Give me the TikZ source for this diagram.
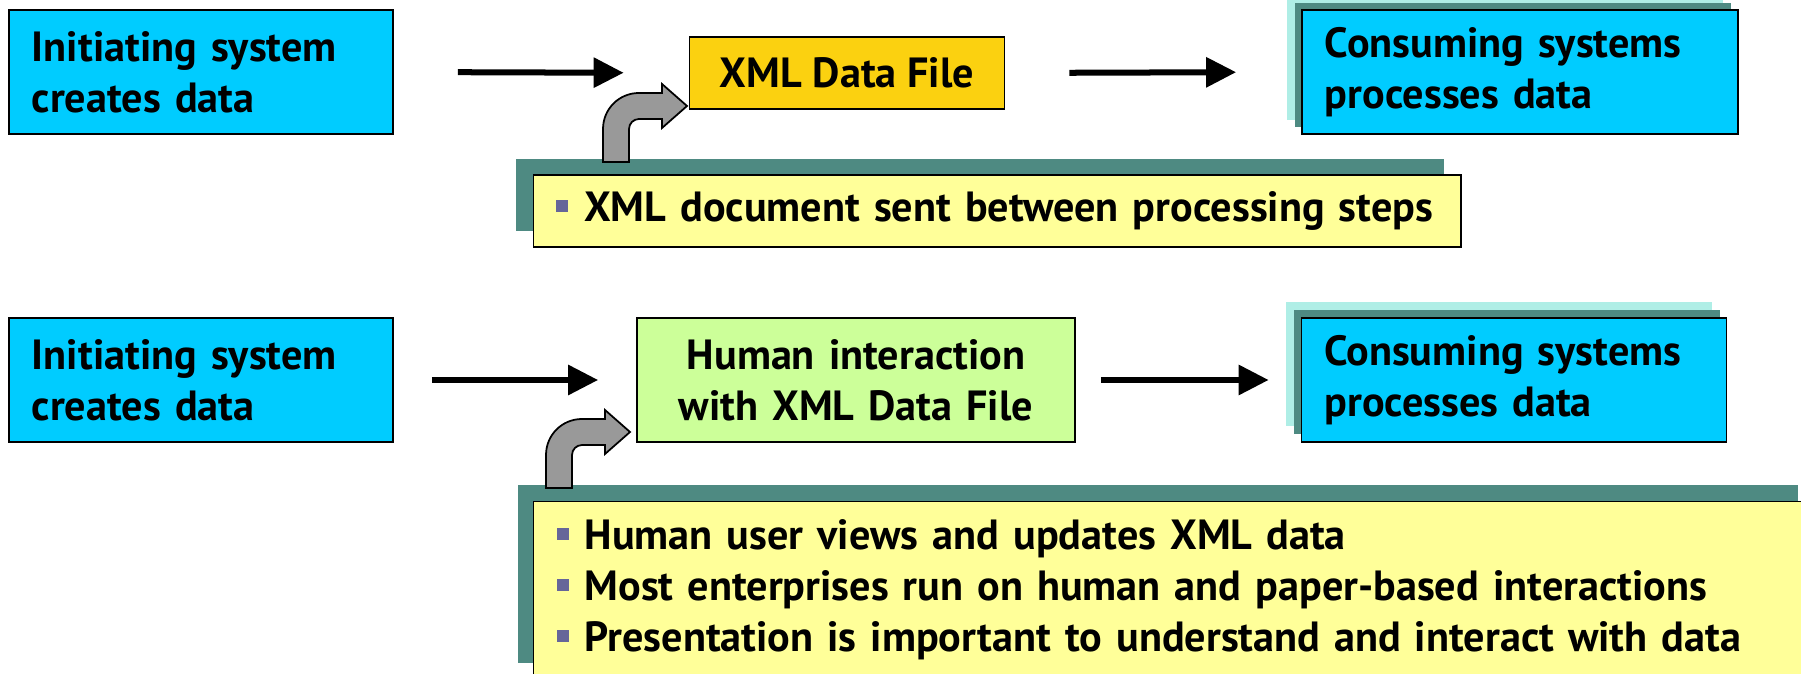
\documentclass[tikz,border=0pt]{standalone}
\usepackage{fontspec}
\setmainfont{PT Sans}
\usetikzlibrary{arrows.meta}

\definecolor{bleu}{RGB}{0,204,255}
\definecolor{cyanpale}{RGB}{175,238,230}
\definecolor{sarcelle}{RGB}{78,138,130}
\definecolor{jaune}{RGB}{255,255,153}
\definecolor{dore}{RGB}{251,209,16}
\definecolor{vert}{RGB}{204,255,153}
\definecolor{gris}{RGB}{153,153,153}
\definecolor{violet}{RGB}{102,102,153}

\newcommand{\carre}{{\color{violet}\rule[0.1cm]{0.12cm}{0.12cm}}\hspace{0.16cm}}

\begin{document}
\begin{tikzpicture}[x=0.01cm, y=-0.01cm]
      \tikzstyle{texte}=[font=\bfseries\fontsize{12}{14.5}\selectfont]
      \tikzstyle{systeme}=[texte, draw, fill=bleu, minimum height=1.24cm, inner xsep=0.23cm, align=left]
      \tikzstyle{couche}=[minimum height=1.24cm, inner sep=0pt]
      \tikzstyle{note}=[texte, draw, fill=jaune, inner xsep=0.23cm, align=left]
      \tikzstyle{ombre}=[fill=sarcelle, inner sep=0pt]
      \tikzstyle{fleche}=[-{Triangle[length=0.3cm, width=0.29cm]}, line width=0.06cm]
      \tikzstyle{coude}=[draw, fill=gris, line width=0.5pt]

      \useasboundingbox (0,0) rectangle (1801,674);
      \clip (0,0) rectangle (1801,674);

      % premiere ligne
      \node[systeme, text width=3.38cm] (Init) at (201,72) {Initiating system\\creates data};
      \node[texte, draw, fill=dore, minimum width=3.15cm, minimum height=0.72cm] (Xml) at (847,73) {XML Data File};
      \node[couche, fill=cyanpale, minimum width=4.36cm] (ConsA) at (1505,58) {};
      \node[couche, fill=sarcelle, minimum width=4.36cm] (ConsB) at (1513,65) {};
      \node[systeme, text width=3.90cm] (Cons) at (1520,72) {Consuming systems\\processes data};
      \node[ombre, minimum width=9.27cm, minimum height=0.72cm] (NoteA) at (980,195) {};
      \node[note, minimum height=0.72cm, text width=8.81cm] (Note) at (997,211) {\carre XML document sent between processing steps};
      \draw[fleche, shorten <=0.64cm, shorten >=0.65cm] (Init.east) -- (Xml.west);
      \draw[fleche, shorten <=0.64cm, shorten >=0.65cm] (Xml.east) -- (Cons.west);
      \draw[coude, shift={(687,106)}] (-84,56) -- (-84,23) .. controls (-84,3) and (-68,-13) .. (-48,-13) -- (-25,-13) -- (-25,-22) -- (0,0) -- (-25,22) -- (-25,13) -- (-48,13) .. controls (-53.5,13) and (-58,17.5) .. (-58,23) -- (-58,56) -- cycle;

      % deuxieme ligne
      \node[systeme, text width=3.38cm] (Init2) at (201,380) {Initiating system\\creates data};
      \node[texte, draw, fill=vert, minimum height=1.24cm, text width=3.98cm, inner xsep=0.2cm, align=center] (Hum) at (856,380) {Human interaction\\with XML Data File};
      \node[couche, fill=cyanpale, minimum width=4.25cm] (Cons2A) at (1499,364) {};
      \node[couche, fill=sarcelle, minimum width=4.25cm] (Cons2B) at (1507,372) {};
      \node[systeme, text width=3.79cm] (Cons2) at (1514,380) {Consuming systems\\processes data};
      \node[ombre, minimum width=12.8cm, minimum height=1.77cm] (Note2A) at (1158,574) {};
      \node[note, minimum height=1.77cm, text width=12.34cm] (Note2) at (1174,590) {\carre Human user views and updates XML data\\\carre Most enterprises run on human and paper-based interactions\\\carre Presentation is important to understand and interact with data};
      \draw[fleche, shorten <=0.38cm, shorten >=0.38cm] (Init2.east) -- (Hum.west);
      \draw[fleche, shorten <=0.25cm, shorten >=0.32cm] (Hum.east) -- (Cons2.west);
      \draw[coude, shift={(630,432)}] (-84,56) -- (-84,23) .. controls (-84,3) and (-68,-13) .. (-48,-13) -- (-25,-13) -- (-25,-22) -- (0,0) -- (-25,22) -- (-25,13) -- (-48,13) .. controls (-53.5,13) and (-58,17.5) .. (-58,23) -- (-58,56) -- cycle;

\end{tikzpicture}
\end{document}
